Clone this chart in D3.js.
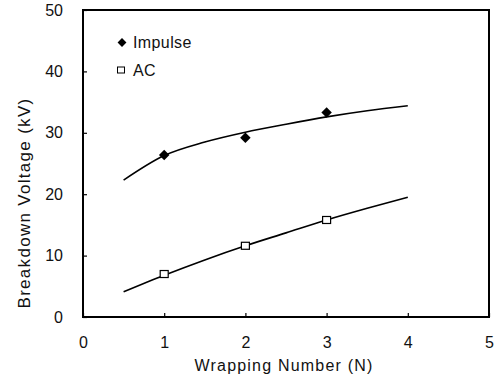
<!DOCTYPE html>
<html>
<head>
<meta charset="utf-8">
<script src="https://cdn.jsdelivr.net/npm/d3@7"></script>
<style>
  body { margin: 0; background: #fff; }
  text { font-family: "Liberation Sans", Arial, sans-serif; fill: #111; }
</style>
</head>
<body>
<svg width="497" height="382"></svg>
<script>
// measured points
var wraps = [1, 2, 3];
var impulse = [26.4, 29.2, 33.3];
var ac = [7.0, 11.6, 15.8];

// fitted curves
var fitX = [0.5, 1, 1.5, 2, 2.5, 3, 3.5, 4];
var impulseFit = [22.3, 26.3, 28.5, 30.1, 31.4, 32.6, 33.6, 34.4];
var acFit = [4.1, 6.8, 9.3, 11.6, 13.7, 15.8, 17.7, 19.5];

var xTicks = [0, 1, 2, 3, 4, 5];
var yTicks = [0, 10, 20, 30, 40, 50];

var svg = d3.select("svg");
var plotL = 83, plotR = 489, plotT = 10, plotB = 317;

var x = d3.scaleLinear().domain([0, 5]).range([plotL, plotR]);
var y = d3.scaleLinear().domain([0, 50]).range([plotB, plotT]);

// frame
svg.append("rect")
  .attr("x", plotL).attr("y", plotT)
  .attr("width", plotR - plotL).attr("height", plotB - plotT)
  .attr("fill", "none").attr("stroke", "#000").attr("stroke-width", 2);

// axes with inward ticks
var xAxis = svg.append("g").attr("transform", "translate(0," + plotB + ")")
  .call(d3.axisBottom(x).tickValues(xTicks).tickFormat(d3.format("d"))
    .tickSizeInner(-4).tickSizeOuter(0).tickPadding(19));
var yAxis = svg.append("g").attr("transform", "translate(" + plotL + ",0)")
  .call(d3.axisLeft(y).tickValues(yTicks).tickFormat(d3.format("d"))
    .tickSizeInner(-4).tickSizeOuter(0).tickPadding(20));

[xAxis, yAxis].forEach(function(g){
  g.select(".domain").remove();
  g.selectAll(".tick line").attr("stroke", "#000").attr("stroke-width", 1.2);
  g.selectAll(".tick text").style("font-size", "16px").attr("fill", "#111");
});
xAxis.selectAll(".tick text").attr("dy", "0.75em");

// axis titles
svg.append("text")
  .attr("x", 284).attr("y", 371)
  .attr("text-anchor", "middle")
  .style("font-size", "16px")
  .style("letter-spacing", "1.2px")
  .text("Wrapping Number (N)");

svg.append("text")
  .attr("transform", "translate(30,203) rotate(-90)")
  .attr("text-anchor", "middle")
  .style("font-size", "17px")
  .style("letter-spacing", "1.3px")
  .text("Breakdown Voltage (kV)");

// fit lines
var line = d3.line()
  .x(function(d){ return x(d[0]); })
  .y(function(d){ return y(d[1]); })
  .curve(d3.curveMonotoneX);

[impulseFit, acFit].forEach(function(vals){
  svg.append("path")
    .datum(fitX.map(function(v, i){ return [v, vals[i]]; }))
    .attr("d", line)
    .attr("fill", "none")
    .attr("stroke", "#000")
    .attr("stroke-width", 1.6);
});

var diamond = d3.symbol().type(d3.symbolDiamond2).size(70);

// impulse markers
svg.selectAll(".imp").data(wraps).enter()
  .append("path")
  .attr("class", "imp")
  .attr("transform", function(d, i){ return "translate(" + x(d) + "," + y(impulse[i]) + ")"; })
  .attr("d", diamond)
  .attr("fill", "#000");

// ac markers
svg.selectAll(".ac").data(wraps).enter()
  .append("rect")
  .attr("class", "ac")
  .attr("x", function(d){ return x(d) - 4; })
  .attr("y", function(d, i){ return y(ac[i]) - 3.5; })
  .attr("width", 8).attr("height", 7)
  .attr("fill", "#fff")
  .attr("stroke", "#000")
  .attr("stroke-width", 1.2);

// legend
svg.append("path")
  .attr("transform", "translate(122,42.5)")
  .attr("d", d3.symbol().type(d3.symbolDiamond2).size(50))
  .attr("fill", "#000");
svg.append("text").attr("x", 133).attr("y", 48).style("font-size", "16px")
  .style("letter-spacing", "0.4px").text("Impulse");

svg.append("rect")
  .attr("x", 117.5).attr("y", 67).attr("width", 7).attr("height", 6)
  .attr("fill", "#fff").attr("stroke", "#000").attr("stroke-width", 1);
svg.append("text").attr("x", 133).attr("y", 76).style("font-size", "16px")
  .style("letter-spacing", "0.4px").text("AC");
</script>
</body>
</html>
